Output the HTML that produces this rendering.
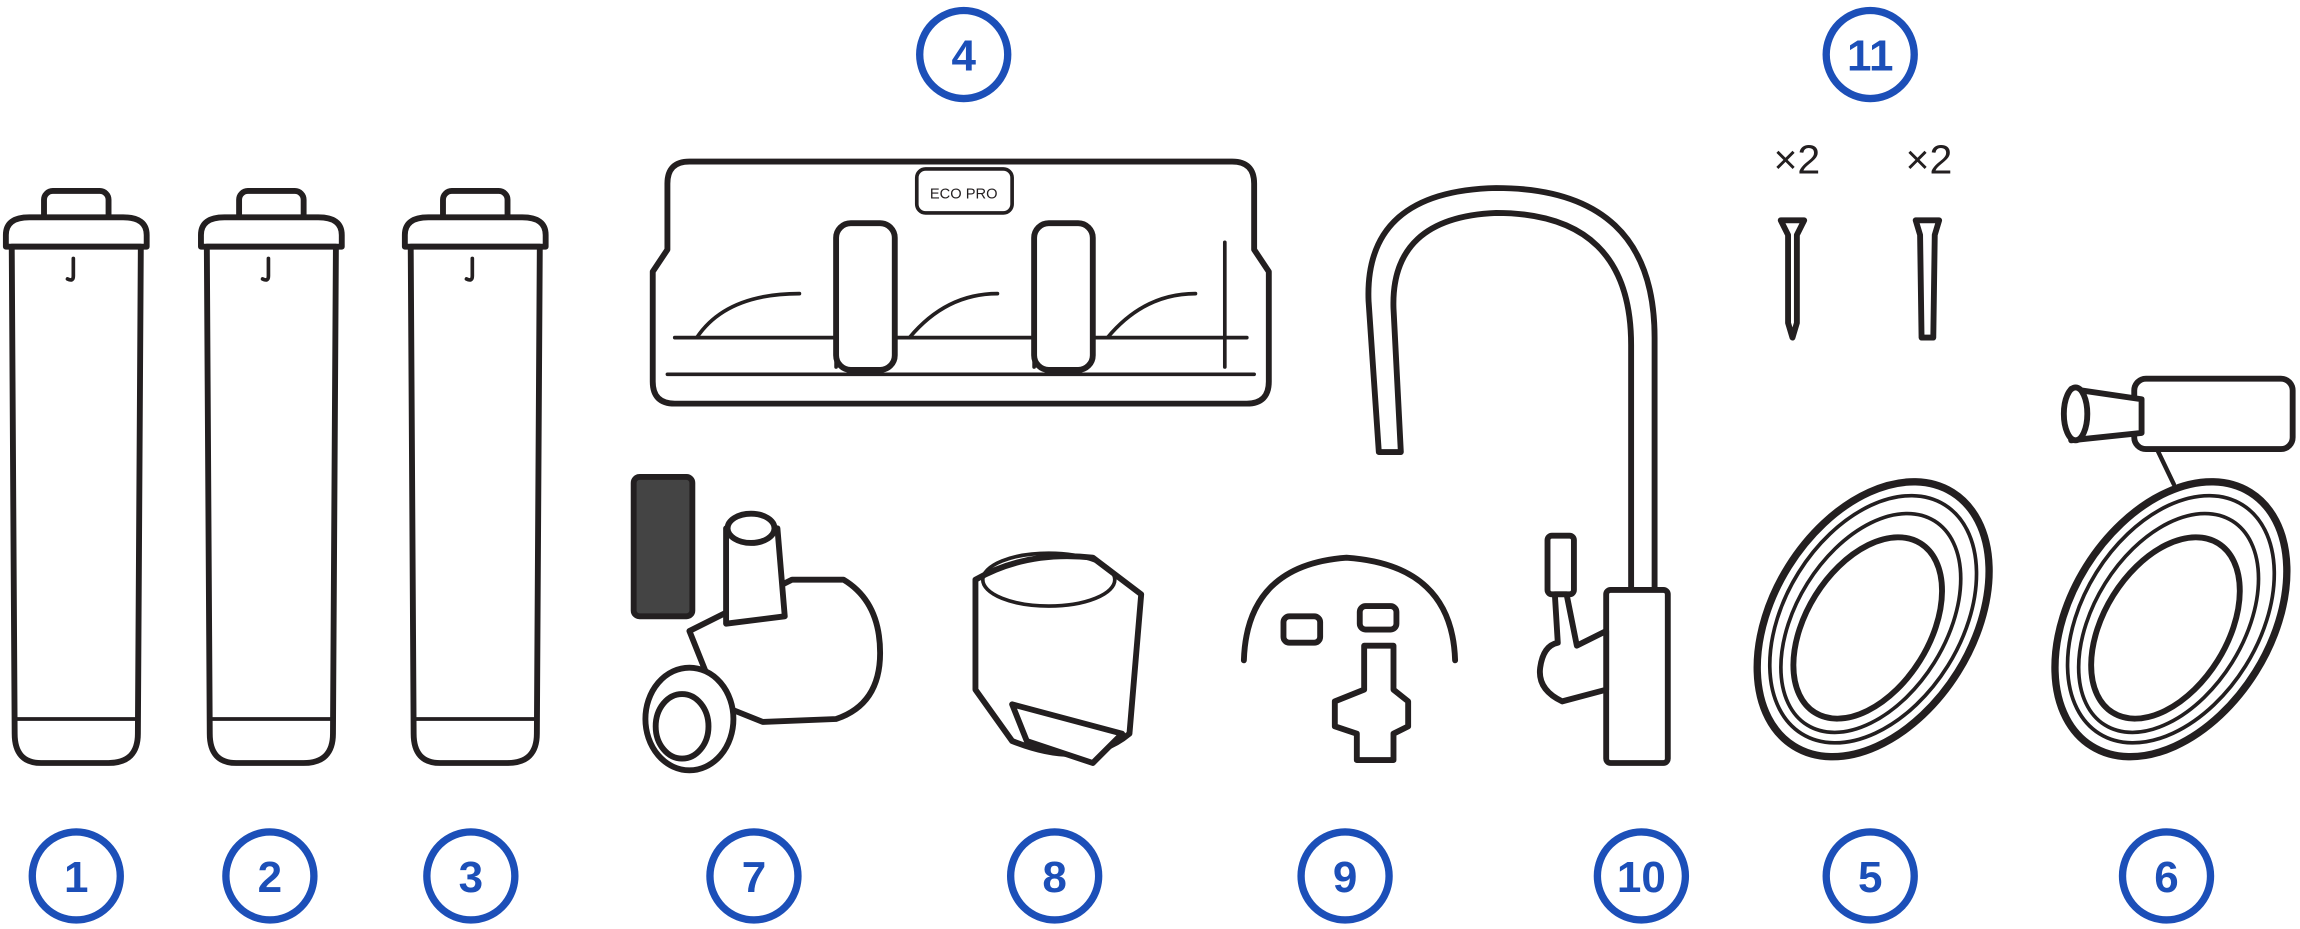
<!DOCTYPE html>
<html><head><meta charset="utf-8"><style>
html,body{margin:0;padding:0;background:#fff;}
svg{display:block;}
.b{fill:none;stroke:#1c4fb8;stroke-width:5;}
.t{fill:#1c4fb8;font-family:"Liberation Sans",sans-serif;font-weight:bold;font-size:30px;text-anchor:middle;}
.k{fill:#fff;stroke:#231f20;stroke-width:4;stroke-linejoin:round;stroke-linecap:round;}
.l{fill:none;stroke:#231f20;stroke-width:2.5;stroke-linecap:round;}
</style></head><body>
<svg width="2300" height="929" viewBox="0 0 1568 633" xmlns="http://www.w3.org/2000/svg">
<g>
<circle class="b" cx="52" cy="597" r="30"/><text class="t" x="52" y="608">1</text>
<circle class="b" cx="184" cy="597" r="30"/><text class="t" x="184" y="608">2</text>
<circle class="b" cx="321" cy="597" r="30"/><text class="t" x="321" y="608">3</text>
<circle class="b" cx="514" cy="597" r="30"/><text class="t" x="514" y="608">7</text>
<circle class="b" cx="719" cy="597" r="30"/><text class="t" x="719" y="608">8</text>
<circle class="b" cx="917" cy="597" r="30"/><text class="t" x="917" y="608">9</text>
<circle class="b" cx="1119" cy="597" r="30"/><text class="t" x="1119" y="608">10</text>
<circle class="b" cx="1275" cy="597" r="30"/><text class="t" x="1275" y="608">5</text>
<circle class="b" cx="1477" cy="597" r="30"/><text class="t" x="1477" y="608">6</text>
<circle class="b" cx="657" cy="37" r="30"/><text class="t" x="657" y="48">4</text>
<circle class="b" cx="1275" cy="37" r="30"/><text class="t" x="1275" y="48">11</text>
</g>
<g id="c">
<rect class="k" x="30" y="130" width="44" height="25" rx="6"/>
<path class="k" d="M4 160 Q4 148 20 148 L84 148 Q100 148 100 160 L100 168 L4 168 Z"/>
<path class="k" d="M8 168 L96 168 L94 500 Q94 520 74 520 L28 520 Q10 520 10 500 Z"/>
<path class="l" d="M10 490 L94 490"/>
<path class="l" d="M50 176 L50 188 Q50 192 46 190"/>
</g>
<use href="#c" x="133"/>
<use href="#c" x="272"/>
<path class="k" d="M470 110 L840 110 Q855 110 855 125 L855 170 L865 185 L865 260 Q865 275 850 275 L460 275 Q445 275 445 260 L445 185 L455 170 L455 125 Q455 110 470 110 Z"/>
<path class="l" d="M455 255 L855 255 M460 230 L850 230 M570 165 L570 250 M705 165 L705 250 M835 165 L835 250"/>
<path class="l" d="M475 230 Q495 200 545 200 M620 230 Q645 200 680 200 M755 230 Q780 200 815 200"/>
<rect class="k" x="570" y="152" width="40" height="100" rx="10"/>
<rect class="k" x="705" y="152" width="40" height="100" rx="10"/>
<rect class="l" x="625" y="115" width="65" height="30" rx="6"/>
<text x="657" y="135" font-family="Liberation Sans,sans-serif" font-size="10" text-anchor="middle" fill="#231f20">ECO PRO</text>
<rect class="k" x="432" y="325" width="40" height="95" rx="4" style="fill:#444"/>
<path class="k" d="M470 430 L540 395 L575 395 Q600 410 600 445 Q600 480 570 490 L520 492 L490 480 Z"/>
<ellipse class="k" cx="470" cy="490" rx="30" ry="35"/>
<ellipse class="k" cx="465" cy="495" rx="18" ry="22"/>
<path class="k" d="M495 360 L530 360 L535 420 L495 425 Z"/>
<ellipse class="k" cx="512" cy="360" rx="16" ry="10"/>
<path class="k" d="M665 395 Q700 375 745 380 L778 405 L770 500 Q740 525 690 505 L665 470 Z"/>
<ellipse class="l" cx="715" cy="395" rx="45" ry="18"/>
<path class="k" d="M690 480 L765 500 L745 520 L700 505 Z"/>
<path class="l" d="M848 450 Q850 385 918 380 Q990 385 992 450" style="stroke-width:4"/>
<rect class="k" x="875" y="420" width="25" height="18" rx="4"/>
<rect class="k" x="927" y="413" width="25" height="16" rx="4"/>
<path class="k" d="M930 440 L950 440 L950 470 L960 478 L960 495 L950 500 L950 518 L925 518 L925 500 L910 495 L910 478 L930 470 Z"/>
<path class="k" d="M940 308 L933 205 Q930 130 1020 128 Q1128 128 1128 230 L1128 405 L1112 405 L1112 235 Q1112 145 1020 145 Q948 148 950 210 L955 308 Z"/>
<rect class="k" x="1095" y="402" width="42" height="118" rx="3"/>
<rect class="k" x="1055" y="365" width="18" height="40" rx="3"/>
<path class="k" d="M1060 405 L1068 405 L1075 440 L1095 430 L1095 470 L1065 478 Q1048 470 1050 455 Q1052 440 1062 438 Z"/>
<text x="1225" y="118" font-family="Liberation Sans,sans-serif" font-size="28" text-anchor="middle" fill="#231f20">×2</text>
<text x="1315" y="118" font-family="Liberation Sans,sans-serif" font-size="28" text-anchor="middle" fill="#231f20">×2</text>
<path class="k" d="M1214 150 L1230 150 L1225 160 L1225 220 L1222 230 L1219 220 L1219 160 Z"/>
<path class="k" d="M1306 150 L1322 150 L1319 160 L1318 230 L1310 230 L1309 160 Z"/>
<g transform="rotate(-58 1277 422)">
<ellipse class="k" cx="1277" cy="422" rx="102" ry="68" style="stroke-width:5"/>
<ellipse class="l" cx="1277" cy="422" rx="92" ry="60"/>
<ellipse class="l" cx="1274" cy="422" rx="82" ry="51"/>
<ellipse class="k" cx="1270" cy="422" rx="68" ry="42"/>
</g>
<g transform="rotate(-58 1480 422)">
<ellipse class="k" cx="1480" cy="422" rx="102" ry="68" style="stroke-width:5"/>
<ellipse class="l" cx="1480" cy="422" rx="92" ry="60"/>
<ellipse class="l" cx="1477" cy="422" rx="82" ry="51"/>
<ellipse class="k" cx="1473" cy="422" rx="68" ry="42"/>
</g>
<path class="l" d="M1470 305 L1482 330" style="stroke-width:3"/>
<rect class="k" x="1455" y="258" width="108" height="48" rx="8"/>
<path class="k" d="M1412 265 L1460 272 L1460 295 L1412 300 Z"/>
<ellipse class="k" cx="1415" cy="282" rx="8" ry="18"/>
</svg>
</body></html>
